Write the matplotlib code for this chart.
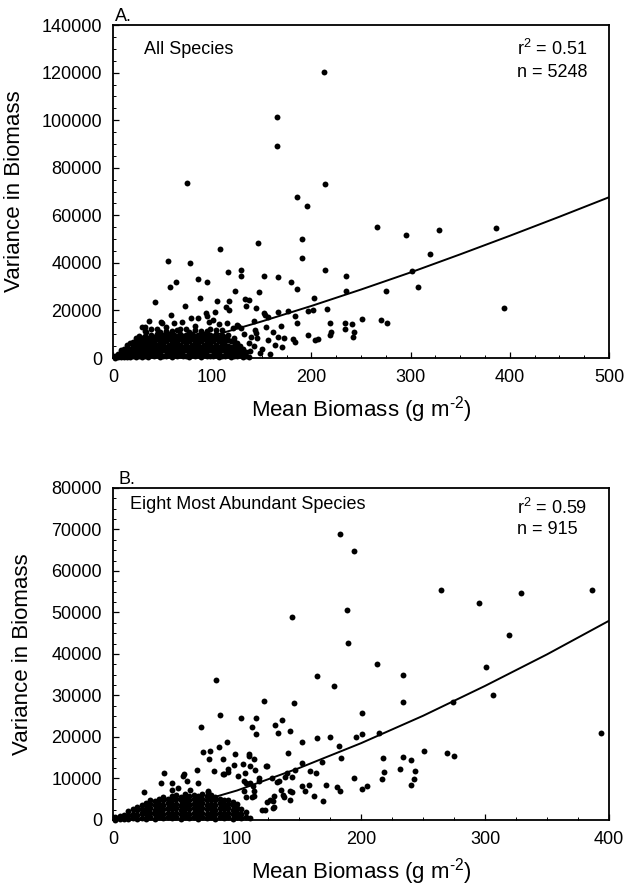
import matplotlib
matplotlib.use("Agg")
import matplotlib.pyplot as plt
from matplotlib.ticker import MultipleLocator

plt.rcParams['font.family'] = ['Liberation Sans', 'DejaVu Sans']
plt.rcParams['mathtext.fontset'] = 'custom'
plt.rcParams['mathtext.rm'] = 'Liberation Sans'
plt.rcParams['mathtext.default'] = 'regular'

# ---- Panel A: all species (outlying points) ----
a_x = [213, 165, 165, 75, 214, 185.5, 196, 265.7, 295.6, 329, 386.5, 394, 320, 301.7, 307,
       275.4, 270.4, 276, 251.5, 241.4, 234, 233.7, 243.4, 242, 219.2, 219.5, 218.5, 235, 235,
       214, 215.8, 202.3, 201.7, 197, 196.6, 203.4, 206.7, 190.2, 190.6, 185.2, 179.1, 183.5,
       185.5, 176.5, 166.3, 166.3, 152.5, 145.8, 147.5, 128.6, 128.6, 123.2, 115.5, 107.8, 94.3,
       85.2, 78.1, 55.9, 64, 57.2, 42.4, 72.7, 87.9, 104.7, 116.8, 114, 117, 136.7, 134, 144.1,
       153.5, 142.1, 169.7, 153.8, 160.9, 166.3, 155.9, 163.3, 170.7, 172.4, 181.5, 183.5, 144.1,
       145.2, 142.4, 131.6, 137.4, 122, 32, 49.8, 78.5, 94.3, 100.5, 107, 115, 133.5, 139.1,
       151.8, 155.9, 143.4, 48.8, 70, 93.6, 29.6, 32.9, 126, 138, 148, 158, 150, 129, 125,
       36, 62, 86, 103, 121, 58, 97]
a_y = [120400, 101200, 89300, 73700, 73200, 67800, 64000, 54900, 51600, 53900, 54700, 20900,
       43900, 36600, 30000, 28200, 15800, 14800, 16500, 14300, 14800, 12100, 11100, 9000, 14800,
       10900, 9700, 34500, 28200, 37000, 20600, 25400, 20300, 19800, 9700, 7400, 8000, 50000,
       42000, 28900, 31800, 17500, 14600, 19800, 19300, 34200, 34500, 48200, 27900, 37000, 34400,
       28300, 36200, 45800, 32100, 33300, 39800, 40900, 31800, 30000, 23700, 21900, 25100, 24100,
       24100, 21500, 20100, 24400, 21900, 21000, 18200, 15700, 13600, 13200, 11100, 8800, 7600,
       5500, 4500, 8300, 7900, 6600, 10400, 8300, 5000, 10100, 6200, 3500, 13200, 14800, 16700,
       17800, 16100, 14200, 14800, 24900, 9000, 19000, 17400, 11800, 15300, 15300, 18800, 13200,
       11000, 13400, 3000, 2000, 1500, 3800, 12600, 14000,
       15600, 14900, 17000, 19200, 12800, 18000, 15300]

# dense cloud near the origin, read as columns: (mean biomass, [variances in thousands])
a_cloud = [
    (2, [0.2, 1.0]), (5, [0.4, 1.6]), (8, [0.3, 1.8, 3.2]), (11, [0.5, 2.0, 3.8]),
    (14, [0.6, 2.4, 4.4, 5.6]), (17, [0.4, 2.0, 4.0, 6.2]), (20, [0.8, 2.8, 4.8, 6.8]),
    (23, [0.5, 2.4, 4.4, 6.4, 8.6]), (26, [0.9, 3.0, 5.0, 7.0, 9.2]),
    (29, [0.6, 2.6, 4.6, 6.6, 8.4]), (32, [1.0, 3.0, 5.2, 7.2, 9.4, 11.4]),
    (35, [0.5, 2.5, 4.6, 6.6, 8.6]), (38, [1.1, 3.2, 5.4, 7.6, 9.8, 12.0]),
    (41, [0.7, 2.6, 4.8, 6.8, 9.0]), (44, [1.2, 3.4, 5.6, 7.8, 10.0, 12.4]),
    (47, [0.6, 2.6, 4.6, 6.8, 9.0, 11.0]), (50, [1.0, 3.2, 5.4, 7.6, 9.8]),
    (53, [0.8, 2.8, 4.8, 7.0, 9.2, 11.4, 13.2]), (56, [1.3, 3.4, 5.6, 7.8, 10.0]),
    (59, [0.6, 2.6, 4.8, 7.0, 9.2, 11.2]), (62, [1.1, 3.2, 5.4, 7.6, 9.8]),
    (65, [0.8, 2.8, 5.0, 7.2, 9.4, 11.6]), (68, [1.2, 3.4, 5.6, 7.8, 10.0, 12.2]),
    (71, [0.7, 2.8, 4.8, 7.0, 9.2]), (74, [1.0, 3.2, 5.4, 7.6, 9.8, 12.4]),
    (77, [0.6, 2.6, 4.8, 7.0, 9.0, 11.0]), (80, [1.3, 3.4, 5.6, 7.8, 10.0]),
    (83, [0.8, 2.8, 5.0, 7.2, 9.4, 11.6, 13.6]), (86, [1.1, 3.2, 5.4, 7.6, 9.8]),
    (89, [0.6, 2.6, 4.8, 7.0, 9.2, 11.4]), (92, [1.2, 3.4, 5.6, 7.8, 10.0]),
    (95, [0.8, 2.8, 5.0, 7.2, 9.4, 11.4]), (98, [1.0, 3.2, 5.4, 7.6, 9.8, 12.2]),
    (101, [0.7, 2.8, 4.8, 7.0, 9.2]), (104, [1.2, 3.4, 5.6, 7.8, 10.0, 11.8]),
    (107, [0.6, 2.6, 4.8, 7.0, 9.0]), (110, [1.0, 3.2, 5.4, 7.4, 9.6, 11.6]),
    (113, [0.8, 2.8, 5.0, 7.0, 9.0]), (116, [1.2, 3.2, 5.2, 7.4, 9.6]),
    (119, [0.6, 2.6, 4.8, 7.0]), (122, [1.0, 3.0, 5.0, 7.2, 8.4]),
    (125, [0.8, 2.8, 4.6, 6.4]), (128, [1.2, 3.2, 5.0]), (131, [0.6, 2.4, 3.8]),
    (134, [1.0, 2.6]), (137, [0.5]),
]

# regression curve, read at every 50 g m-2
a_fit_x = [0, 50, 100, 150, 200, 250, 300, 350, 400, 450, 500]
a_fit_y = [0, 4000, 9300, 15400, 21900, 28800, 36000, 43600, 51400, 59400, 67600]

# ---- Panel B: eight most abundant species ----
b_x = [183.3, 194.6, 264.5, 295, 328.7, 386, 144.1, 188.4, 319.3, 189.2, 213, 234, 300.4, 306.3,
       274.5, 233.5, 393.5, 83.2, 164.6, 177.9, 121.7, 146.3, 201.1, 86.1, 103.4, 115.2, 136,
       130.9, 112, 71, 133.4, 142.5, 115.5, 214.3, 196, 200.5, 174.9, 164.6, 152.5, 181.9, 250.5,
       269.1, 275.3, 217.8, 233.5, 240.2, 183.8, 168.2, 140.9, 152.5, 159.2, 163.8, 147.1, 144.4,
       139, 124.5, 194.6, 204.6, 201.1, 218.9, 217.3, 231.6, 243.7, 242.4, 240.7, 171.4, 169.5,
       162, 155.2, 152.8, 157.9, 180.8, 182.7, 143.1, 137.1, 135.5, 144.4, 132.3, 130.1, 128.7,
       122.8, 123.6, 41.3, 56.7, 67.5, 72.3, 78.3, 77.5, 85.6, 91.7, 88.5, 98.5, 97.7, 104.7,
       109.3, 113.4, 110.7, 114.7, 81.8, 93.1, 89.1, 47.2, 39.1, 24.8, 59.4, 68.8, 76.9, 101.2,
       107.1, 114, 114, 112, 118, 124.5, 129, 89.6, 93, 57.5, 47.2, 52.6, 62, 77, 106.6, 109.3,
       105.3, 110.7, 112.6, 117.4, 128.2, 133.6, 140.3, 143, 138, 126.9, 129.6, 120, 106, 107]
b_y = [68900, 64900, 55500, 52200, 54600, 55300, 48900, 50700, 44600, 42600, 37500, 35000,
       36800, 30100, 28500, 28500, 21000, 33800, 34600, 32200, 28600, 28100, 25700, 25400, 24500,
       24500, 24200, 22800, 22300, 22400, 21000, 21500, 20600, 21000, 20000, 20700, 20000, 19700,
       18700, 17900, 16700, 16200, 15300, 15000, 15200, 14400, 15000, 14000, 16100, 13700, 11800,
       11200, 12000, 10400, 10400, 13000, 10000, 8300, 7500, 11500, 9900, 12200, 11800, 9800,
       8500, 8500, 4600, 5800, 6900, 8300, 8400, 8000, 7100, 4800, 5900, 7300, 6700, 9100, 5700,
       4500, 2400, 12900, 11200, 10600, 12100, 16400, 16600, 14600, 17500, 18700, 14600, 16000,
       13200, 13600, 15300, 14800, 13000, 12000, 11800, 12200, 11100, 8800, 9000, 6800, 9300,
       9000, 6800, 10600, 9000, 7000, 5800, 5500, 10200, 4400, 3000, 11000, 11500, 11000, 7300,
       7700, 7300, 6900, 11400, 15800, 9300, 8900, 8100, 9300, 10200, 9300, 11200, 6900, 5600,
       4900, 3200, 2400, 6900, 5500]

b_cloud = [
    (2, [0.1, 0.6]), (5.5, [0.2, 1.0]), (9, [0.3, 1.3]), (12.5, [0.2, 1.2, 2.2]),
    (16, [0.4, 1.5, 2.6]), (19.5, [0.3, 1.3, 2.4, 3.2]), (23, [0.5, 1.6, 2.7, 3.6]),
    (26.5, [0.3, 1.4, 2.5, 3.6, 4.2]), (30, [0.6, 1.7, 2.8, 3.9, 4.8]),
    (33.5, [0.3, 1.4, 2.5, 3.6, 4.6]), (37, [0.6, 1.7, 2.8, 3.9, 5.0]),
    (40.5, [0.4, 1.5, 2.6, 3.7, 4.8, 5.6]), (44, [0.7, 1.8, 2.9, 4.0, 5.1]),
    (47.5, [0.4, 1.5, 2.6, 3.7, 4.8, 5.8]), (51, [0.6, 1.7, 2.8, 3.9, 5.0, 6.0]),
    (54.5, [0.3, 1.4, 2.5, 3.6, 4.7, 5.6]), (58, [0.7, 1.8, 2.9, 4.0, 5.1, 6.2]),
    (61.5, [0.4, 1.5, 2.6, 3.7, 4.8, 5.8]), (65, [0.6, 1.7, 2.8, 3.9, 5.0, 6.1]),
    (68.5, [0.3, 1.4, 2.5, 3.6, 4.7, 5.7]), (72, [0.7, 1.8, 2.9, 4.0, 5.1, 6.2]),
    (75.5, [0.4, 1.5, 2.6, 3.7, 4.8, 5.8]), (79, [0.6, 1.7, 2.8, 3.9, 5.0, 6.0]),
    (82.5, [0.3, 1.4, 2.5, 3.6, 4.7, 5.6]), (86, [0.7, 1.8, 2.9, 4.0, 5.1]),
    (89.5, [0.4, 1.5, 2.6, 3.7, 4.8]), (93, [0.6, 1.7, 2.8, 3.9, 4.9]),
    (96.5, [0.3, 1.4, 2.5, 3.6, 4.4]), (100, [0.7, 1.8, 2.9, 3.8]),
    (103.5, [0.4, 1.5, 2.6]), (107, [0.8, 1.9]), (110.5, [0.5]),
]

b_fit_x = [0, 50, 100, 150, 200, 250, 300, 350, 400]
b_fit_y = [0, 2750, 7100, 12500, 18500, 25100, 32300, 39900, 48000]

XLABEL = 'Mean Biomass (g m$^{\u20102}$)'


def expand(cloud):
    xs, ys = [], []
    for x, col in cloud:
        for v in col:
            xs.append(x)
            ys.append(v * 1000)
    return xs, ys


def style_axes(ax, xmax, xmajor, ymax, ymajor, yminor):
    ax.set_xlim(0, xmax)
    ax.set_ylim(0, ymax)
    ax.xaxis.set_major_locator(MultipleLocator(xmajor))
    ax.xaxis.set_minor_locator(MultipleLocator(25))
    ax.yaxis.set_major_locator(MultipleLocator(ymajor))
    ax.yaxis.set_minor_locator(MultipleLocator(yminor))
    ax.tick_params(which='both', direction='in', top=False, right=False, labelsize=13)
    ax.tick_params(which='major', length=4, width=0.9, pad=8)
    ax.tick_params(which='minor', length=2.5, width=0.7)
    for s in ax.spines.values():
        s.set_linewidth(1.3)
    ax.set_xlabel(XLABEL, fontsize=16, labelpad=6)


fig = plt.figure(figsize=(6.33, 8.88), dpi=100)

# %% panel A
ax1 = fig.add_axes([0.1785, 0.5968, 0.7836, 0.375])
cx, cy = expand(a_cloud)
ax1.scatter(cx + a_x, cy + a_y, s=18, color='black', linewidths=0, clip_on=False, zorder=3)
ax1.plot(a_fit_x, a_fit_y, color='black', lw=1.4, zorder=2)
style_axes(ax1, 500, 100, 140000, 20000, 5000)
ax1.set_ylabel('Variance in Biomass', fontsize=16)
ax1.yaxis.set_label_coords(-0.177, 0.5)
ax1.text(0.063, 0.928, 'All Species', transform=ax1.transAxes, fontsize=13, va='center')
ax1.text(0.815, 0.928, 'r$^2$ = 0.51', transform=ax1.transAxes, fontsize=13, va='center')
ax1.text(0.815, 0.856, 'n = 5248', transform=ax1.transAxes, fontsize=13, va='center')
ax1.text(0.004, 1.0, 'A.', transform=ax1.transAxes, fontsize=13, va='bottom')

# %% panel B
ax2 = fig.add_axes([0.1785, 0.0766, 0.7836, 0.3739])
cx, cy = expand(b_cloud)
ax2.scatter(cx + b_x, cy + b_y, s=18, color='black', linewidths=0, clip_on=False, zorder=3)
ax2.plot(b_fit_x, b_fit_y, color='black', lw=1.4, zorder=2)
style_axes(ax2, 400, 100, 80000, 10000, 2500)
ax2.set_ylabel('Variance in Biomass', fontsize=16)
ax2.yaxis.set_label_coords(-0.161, 0.5)
ax2.text(0.034, 0.949, 'Eight Most Abundant Species', transform=ax2.transAxes, fontsize=13, va='center')
ax2.text(0.815, 0.94, 'r$^2$ = 0.59', transform=ax2.transAxes, fontsize=13, va='center')
ax2.text(0.815, 0.876, 'n = 915', transform=ax2.transAxes, fontsize=13, va='center')
ax2.text(0.012, 1.0, 'B.', transform=ax2.transAxes, fontsize=13, va='bottom')

fig.savefig('out.png', dpi=100)
